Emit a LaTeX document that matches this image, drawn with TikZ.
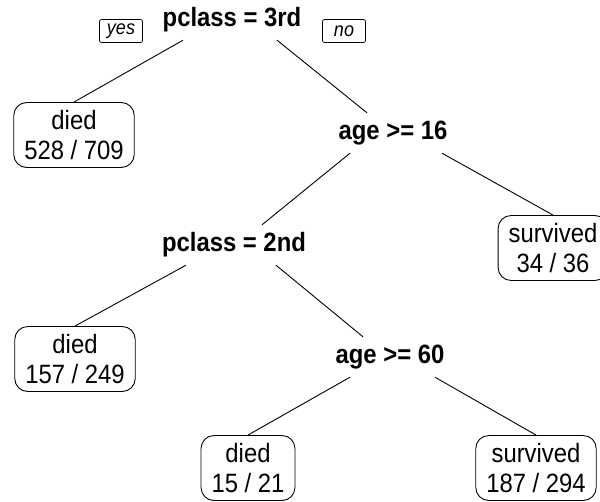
\documentclass[tikz,border=0pt]{standalone}
\usepackage{fontspec}
\setmainfont[FakeStretch=0.9]{Liberation Sans}
\usepackage{tikz}

\begin{document}
\begin{tikzpicture}[
    x=1pt, y=-1pt,
    split/.style={font=\fontsize{26.5}{31}\selectfont\bfseries, minimum height=40pt, inner sep=0pt},
    leaf/.style={draw, line width=0.9pt, rounded corners=13pt, align=center, inner xsep=10.5pt, minimum height=65pt, font=\fontsize{26.5}{30}\selectfont},
    answer/.style={draw, line width=0.7pt, rounded corners=2pt, font=\fontsize{20}{22}\selectfont\itshape, minimum width=43pt, minimum height=23pt, inner sep=0pt},
    edge/.style={line width=0.9pt}
  ]
    \clip (0, 0) rectangle (600, 501);

    % Splits
    \node[split] (root) at (232, 20) {pclass = 3rd};
    \node[split] (age16) at (393, 133) {age >= 16};
    \node[split] (class2) at (234, 245) {pclass = 2nd};
    \node[split] (age60) at (390, 357) {age >= 60};

    % Leaves
    \node[leaf] (died1) at (74, 135) {died\\528 / 709};
    \node[leaf] (surv1) at (553, 248) {survived\\34 / 36};
    \node[leaf] (died2) at (75, 359) {died\\157 / 249};
    \node[leaf] (died3) at (248, 468) {died\\15 / 21};
    \node[leaf] (surv2) at (536, 468) {survived\\187 / 294};

    % yes / no
    \node[answer] (yes) at (121, 31) {yes};
    \node[answer] (no) at (344, 31) {no};

    % Branches
    \draw[edge] ([xshift=-49pt]root.south) -- (died1.north);
    \draw[edge] ([xshift=45pt]root.south) -- ([xshift=-26pt]age16.north);
    \draw[edge] ([xshift=-43pt]age16.south) -- ([xshift=28pt]class2.north);
    \draw[edge] ([xshift=49pt]age16.south) -- (surv1.north);
    \draw[edge] ([xshift=-48pt]class2.south) -- (died2.north);
    \draw[edge] ([xshift=42pt]class2.south) -- ([xshift=-27pt]age60.north);
    \draw[edge] ([xshift=-40pt]age60.south) -- (died3.north);
    \draw[edge] ([xshift=45pt]age60.south) -- (surv2.north);
  \end{tikzpicture}
\end{document}
